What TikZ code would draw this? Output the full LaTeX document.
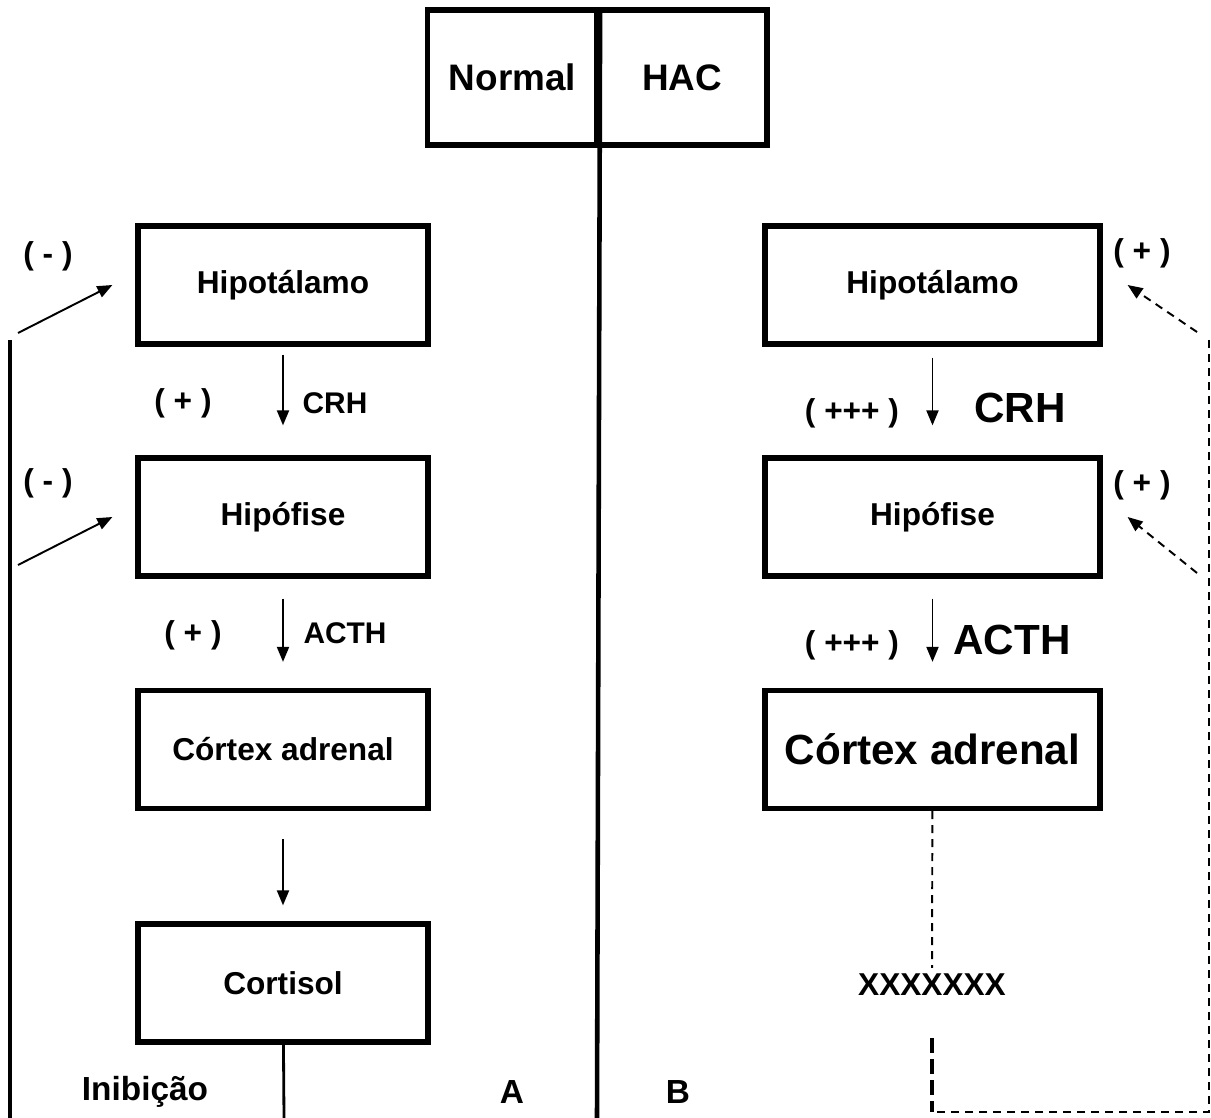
\documentclass[tikz,border=0pt]{standalone}
\usepackage{fontspec}
\setmainfont{Liberation Sans}
\usetikzlibrary{arrows.meta}
\tikzset{
	box/.style={draw,line width=3pt,minimum width=5.8cm,minimum height=2.36cm,font=\bfseries\fontsize{18}{20}\selectfont},
	boxR/.style={box,minimum width=6.7cm},
	hdr/.style={draw,line width=3pt,minimum width=3.4cm,minimum height=2.7cm,font=\bfseries\fontsize{21}{24}\selectfont},
	lbl/.style={font=\bfseries\fontsize{17}{20}\selectfont},
	sgn/.style={font=\bfseries\fontsize{18}{20}\selectfont},
	big/.style={font=\bfseries\fontsize{24}{28}\selectfont},
	arr/.style={line width=1.1pt,-{Triangle[length=0.3cm,width=0.24cm]}},
	darr/.style={line width=1.1pt,dash pattern=on 0.16cm off 0.12cm,-{Triangle[length=0.3cm,width=0.24cm]}},
	dline/.style={line width=1.1pt,dash pattern=on 0.16cm off 0.12cm},
}
\begin{document}
\begin{tikzpicture}[x=0.02cm,y=-0.02cm]
		\useasboundingbox (0,0) rectangle (1211,1118);
		% header
		\node[hdr] (normal) at (512.5,77.5) {Normal};
		\node[hdr] (hac) at (682,77.5) {HAC};
		\coordinate (midbot) at (597,1118);
		\draw[line width=2.6pt] (normal.north east) -- (midbot);
		% normal axis
		\node[box] (hipL) at (283,285) {Hipotálamo};
		\node[box] (hpfL) at (283,517) {Hipófise};
		\node[box] (ctxL) at (283,749.5) {Córtex adrenal};
		\node[box] (corL) at (283,983) {Cortisol};
		\draw[arr,shorten <=0.16cm,shorten >=0.6cm] (hipL) -- (hpfL);
		\draw[arr,shorten <=0.4cm,shorten >=0.52cm] (hpfL) -- (ctxL);
		\draw[arr,shorten <=0.56cm,shorten >=0.32cm] (ctxL) -- (corL);
		\node[sgn] (pL1) at (183,403) {( + )};
		\node[lbl] (crhL) at (335,403) {CRH};
		\node[sgn] (pL2) at (193,635) {( + )};
		\node[lbl] (acthL) at (345,633) {ACTH};
		% inhibition
		\node[sgn] (mL1) at (48,256) {( - )};
		\node[sgn] (mL2) at (48,483) {( - )};
		\coordinate (fbL1) at (18,333);
		\coordinate (fbL2) at (18,565);
		\coordinate (inbtop) at (10,340);
		\coordinate (inbbot) at (10,1118);
		\coordinate (corbot) at (284,1118);
		\draw[arr] (fbL1) -- ([xshift=-0.46cm]hipL.west);
		\draw[arr] (fbL2) -- ([xshift=-0.46cm]hpfL.west);
		\draw[line width=2.2pt] (inbtop) -- (inbbot);
		\draw[line width=1.6pt] (corL) -- (corbot);
		\node[font=\bfseries\fontsize{19}{22}\selectfont] (inib) at (145,1092) {Inibição};
		\node[font=\bfseries\fontsize{19}{22}\selectfont] (lblA) at (512,1092) {A};
		\node[font=\bfseries\fontsize{19}{22}\selectfont] (lblB) at (678,1092) {B};
		% HAC axis
		\node[boxR] (hipR) at (932.5,285) {Hipotálamo};
		\node[boxR] (hpfR) at (932.5,517) {Hipófise};
		\node[boxR,big] (ctxR) at (932.5,749.5) {Córtex adrenal};
		\draw[arr,shorten <=0.22cm,shorten >=0.6cm] (hipR) -- (hpfR);
		\draw[arr,shorten <=0.4cm,shorten >=0.52cm] (hpfR) -- (ctxR);
		\node[sgn] (pR1) at (852,413) {( +++ )};
		\node[big] (crhR) at (1020,408) {CRH};
		\node[sgn] (pR2) at (852,645) {( +++ )};
		\node[big] (acthR) at (1012,640) {ACTH};
		\node[font=\bfseries\fontsize{18}{20}\selectfont] (xxx) at (932,985) {XXXXXXX};
		\draw[dline] (ctxR) -- (xxx);
		% feedback (+)
		\node[sgn] (pR3) at (1142,253) {( + )};
		\node[sgn] (pR4) at (1142,485) {( + )};
		\coordinate (fbR1) at (1197,332);
		\coordinate (fbR2) at (1197,573);
		\coordinate (rtop) at (1209,340);
		\coordinate (rbot) at (1209,1112);
		\coordinate (lbot) at (932,1112);
		\coordinate (thtop) at (932,1038);
		\draw[darr] (fbR1) -- ([xshift=0.5cm]hipR.east);
		\draw[darr] (fbR2) -- ([xshift=0.5cm]hpfR.east);
		\draw[dline] (rtop) -- (rbot) -- (lbot);
		\draw[line width=2.8pt,dash pattern=on 0.3cm off 0.12cm] (thtop) -- (lbot);
	\end{tikzpicture}
\end{document}
